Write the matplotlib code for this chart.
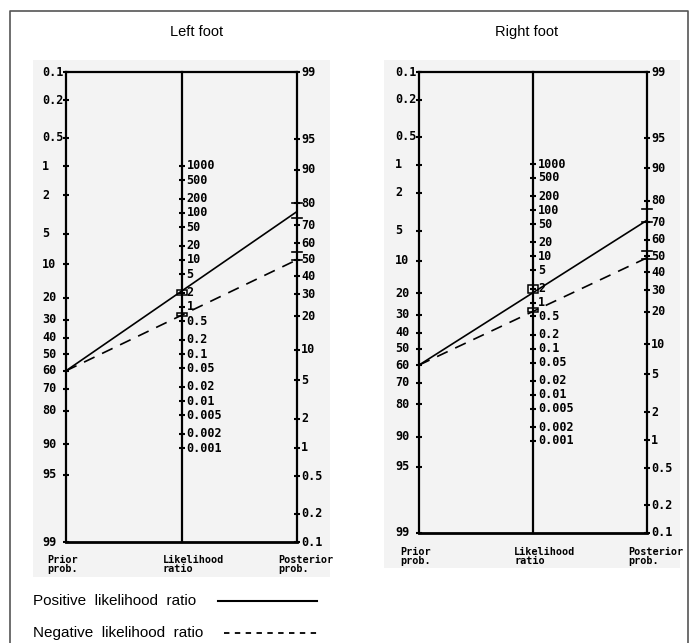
import numpy as np
import matplotlib
matplotlib.use("Agg")
import matplotlib.pyplot as plt
from matplotlib.patches import Rectangle

# ---------------- data ----------------
panels = ["Left foot", "Right foot"]
prior_prob = [60, 60]                 # %
post_pos = [76.5, 71.0]               # % posterior after positive LR
post_neg = [50.0, 49.0]               # % posterior after negative LR
lr_pos_ci = [(1.77, 2.26), (1.63, 2.45)]
lr_neg_ci = [(0.64, 0.76), (0.63, 0.75)]
post_pos_ci = [(73.6, 80.0), (70.1, 76.6)]
post_neg_ci = [(50.0, 54.6), (48.4, 53.0)]

prob_ticks_left = [0.1, 0.2, 0.5, 1, 2, 5, 10, 20, 30, 40, 50, 60, 70, 80, 90, 95, 99]
prob_ticks_right = [99, 95, 90, 80, 70, 60, 50, 40, 30, 20, 10, 5, 2, 1, 0.5, 0.2, 0.1]
lr_ticks = [1000, 500, 200, 100, 50, 20, 10, 5, 2, 1, 0.5, 0.2, 0.1,
            0.05, 0.02, 0.01, 0.005, 0.002, 0.001]

# ---------------- scales ----------------
def logit(p):
    p = np.asarray(p, dtype=float) / 100.0
    return np.log(p / (1 - p))

L0 = float(logit(0.1))
L1 = float(logit(99))
V = L1 - L0

def v_left(p):
    return logit(p) - L0

def v_right(p):
    return L1 - logit(p)

def v_mid(lr):
    return (float(v_left(50)) + float(v_right(50))) / 2 - np.log(lr) / 2

def fmt(x):
    return "%g" % x

W, H = 694, 643
fig = plt.figure(figsize=(W / 100, H / 100), dpi=100)
fig.patch.set_facecolor("white")

# outer border
fig.add_artist(plt.Line2D([10 / W, 10 / W, 688 / W, 688 / W],
                          [0, 1 - 11 / H, 1 - 11 / H, 0],
                          transform=fig.transFigure, color="#555555", lw=1.2))

# panel geometry (pixels)
geo = [dict(bg=(33, 60, 330, 577), ax=(66, 72, 297, 542), title_x=197, lab_y=555),
       dict(bg=(384, 60, 680, 568), ax=(419, 72, 647, 533), title_x=527, lab_y=547)]

mono = dict(family="DejaVu Sans Mono", weight="bold")
px = 0.72  # points per pixel

for i, g in enumerate(geo):
    bx0, by0, bx1, by1 = g["bg"]
    fig.add_artist(Rectangle((bx0 / W, 1 - by1 / H), (bx1 - bx0) / W, (by1 - by0) / H,
                             transform=fig.transFigure, facecolor="#f3f3f3",
                             edgecolor="none", zorder=0))
    x0, y0, x1, y1 = g["ax"]
    ax = fig.add_axes([x0 / W, 1 - y1 / H, (x1 - x0) / W, (y1 - y0) / H])
    ax.set_xlim(0, 1)
    ax.set_ylim(V, 0)
    ax.axis("off")

    for xx in (0, 0.5, 1):
        ax.plot([xx, xx], [0, V], color="black", lw=1.6, clip_on=False, zorder=3)
    ax.plot([0, 1], [0, 0], color="black", lw=1.6, clip_on=False, zorder=3)
    ax.plot([0, 1], [V, V], color="black", lw=2.0, clip_on=False, zorder=3)

    for t in prob_ticks_left:
        y = float(v_left(t))
        ax.plot([0], [y], marker="_", ms=5, mew=1.5, color="black", clip_on=False)
        ax.annotate(fmt(t), xy=(0, y), xytext=(-24 * px, 0), textcoords="offset points",
                    ha="left", va="center", fontsize=8.5, **mono)
    for t in prob_ticks_right:
        y = float(v_right(t))
        ax.plot([1], [y], marker="_", ms=5, mew=1.5, color="black", clip_on=False)
        ax.annotate(fmt(t), xy=(1, y), xytext=(4 * px, 0), textcoords="offset points",
                    ha="left", va="center", fontsize=8.5, **mono)
    for t in lr_ticks:
        y = float(v_mid(t))
        ax.plot([0.5], [y], marker="_", ms=5, mew=1.5, color="black", clip_on=False)
        ax.annotate(fmt(t), xy=(0.5, y), xytext=(5 * px, 0), textcoords="offset points",
                    ha="left", va="center", fontsize=8.5, **mono)

    ax.plot([0, 1], [float(v_left(prior_prob[i])), float(v_right(post_pos[i]))],
            color="black", lw=1.2, zorder=4)
    ax.plot([0, 1], [float(v_left(prior_prob[i])), float(v_right(post_neg[i]))],
            color="black", lw=1.2, ls=(0, (7, 5)), zorder=4)

    half_w = 5 / (x1 - x0)
    for lo, hi in (lr_pos_ci[i], lr_neg_ci[i]):
        ya, yb = float(v_mid(hi)), float(v_mid(lo))
        ax.add_patch(Rectangle((0.5 - half_w, ya), 2 * half_w, yb - ya,
                               facecolor="none", edgecolor="black", lw=1.1, zorder=5))
    for lo, hi in (post_pos_ci[i], post_neg_ci[i]):
        ya, yb = float(v_right(hi)), float(v_right(lo))
        ax.plot([1 - half_w, 1 + half_w], [ya, ya], color="black", lw=1.2, clip_on=False, zorder=5)
        ax.plot([1 - half_w, 1 + half_w], [yb, yb], color="black", lw=1.2, clip_on=False, zorder=5)

    for xx, lab in ((0, "Prior\nprob."), (0.5, "Likelihood\nratio"), (1, "Posterior\nprob.")):
        fig.text((x0 + xx * (x1 - x0) - 19) / W, 1 - g["lab_y"] / H, lab,
                 ha="left", va="top", fontsize=7.3, linespacing=0.85, **mono)

    fig.text(g["title_x"] / W, 1 - 32 / H, panels[i], ha="center", va="center",
             fontsize=10.5, family="Liberation Sans")

# legend
fig.text(33 / W, 1 - 601 / H, "Positive  likelihood  ratio", ha="left", va="center",
         fontsize=11, family="Liberation Sans")
fig.add_artist(plt.Line2D([218 / W, 317 / W], [1 - 601 / H, 1 - 601 / H],
                          transform=fig.transFigure, color="black", lw=1.5))
fig.text(33 / W, 1 - 633 / H, "Negative  likelihood  ratio", ha="left", va="center",
         fontsize=11, family="Liberation Sans")
fig.add_artist(plt.Line2D([224 / W, 317 / W], [1 - 633 / H, 1 - 633 / H],
                          transform=fig.transFigure, color="black", lw=1.3,
                          ls=(0, (3, 3))))

fig.savefig("out.png", dpi=100, facecolor="white")
